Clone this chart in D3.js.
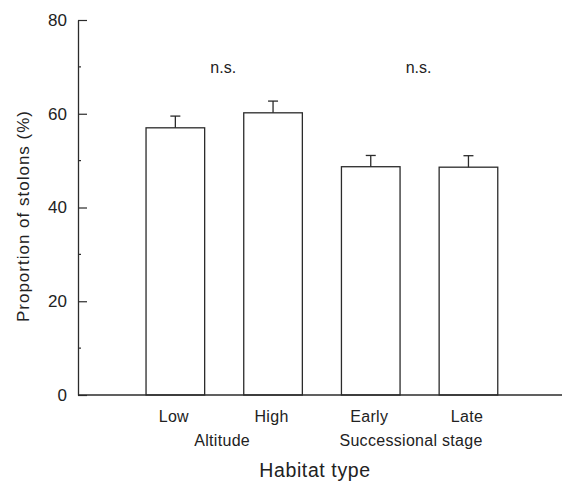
<!DOCTYPE html>
<html><head><meta charset="utf-8">
<script src="https://cdn.jsdelivr.net/npm/d3@7"></script>
<style>
html,body{margin:0;padding:0;background:#fff;}
svg{display:block;font-family:"Liberation Sans",Arial,Helvetica,sans-serif;}
</style></head>
<body>
<svg id="chart" width="563" height="481"></svg>
<script>
const categories = ["Low", "High", "Early", "Late"];
const values = [57.0, 60.2, 48.7, 48.6];
const errors = [2.5, 2.5, 2.4, 2.45];
const groups = ["Altitude", "Successional stage"];
const groupMembers = [["Low", "High"], ["Early", "Late"]];
const groupNotes = ["n.s.", "n.s."];
const yTicks = [0, 20, 40, 60, 80];
const yMinorTicks = [10, 30, 50, 70];

(function () {
const svg = d3.select("#chart");
const ink = "#2b2b2b";
const mLeft = 78, mRight = 562, mTop = 20, mBottom = 395;
const groupLabelShift = [-2, -8.5];

const y = d3.scaleLinear().domain([0, 80]).range([mBottom, mTop]);
const x = d3.scaleBand().domain(categories).range([126.5, 517.3])
  .paddingInner(0.4).paddingOuter(0.2);

// minor ticks
svg.append("g").selectAll("line").data(yMinorTicks).join("line")
  .attr("x1", mLeft).attr("x2", mLeft + 3)
  .attr("y1", d => y(d)).attr("y2", d => y(d))
  .attr("stroke", ink).attr("stroke-width", 1.2);

// y axis
const yAxis = d3.axisLeft(y).tickValues(yTicks).tickFormat(d3.format("d"))
  .tickSizeInner(-9).tickSizeOuter(0).tickPadding(11);
const gy = svg.append("g").attr("transform", `translate(${mLeft},0)`).call(yAxis);
gy.select(".domain").attr("stroke", ink).attr("stroke-width", 1.3);
gy.selectAll(".tick line").attr("stroke", ink).attr("stroke-width", 1.2);
gy.selectAll(".tick text").attr("font-size", 17).attr("fill", "#222")
  .attr("font-family", "Liberation Sans, Arial, sans-serif");

// bars
svg.append("g").selectAll("rect").data(categories).join("rect")
  .attr("x", d => x(d)).attr("width", x.bandwidth())
  .attr("y", (d, i) => y(values[i])).attr("height", (d, i) => y(0) - y(values[i]))
  .attr("fill", "#fff").attr("stroke", ink).attr("stroke-width", 1.3);

// error bars
const eg = svg.append("g").attr("stroke", ink).attr("stroke-width", 1.3);
categories.forEach((c, i) => {
  const cx = x(c) + x.bandwidth() / 2;
  eg.append("line").attr("x1", cx).attr("x2", cx)
    .attr("y1", y(values[i])).attr("y2", y(values[i] + errors[i]));
  eg.append("line").attr("x1", cx - 5).attr("x2", cx + 5)
    .attr("y1", y(values[i] + errors[i])).attr("y2", y(values[i] + errors[i]));
});

// x axis line
svg.append("line").attr("x1", mLeft).attr("x2", mRight)
  .attr("y1", mBottom).attr("y2", mBottom)
  .attr("stroke", ink).attr("stroke-width", 1.3);

// category labels
svg.append("g").selectAll("text").data(categories).join("text")
  .attr("x", d => x(d) + x.bandwidth() / 2 - 1.5).attr("y", 422)
  .attr("text-anchor", "middle").attr("font-size", 16).attr("fill", "#222")
  .attr("letter-spacing", 0.3)
  .text(d => d);

// group labels and notes
groups.forEach((g, i) => {
  const m = groupMembers[i];
  const cx = (x(m[0]) + x(m[1]) + x.bandwidth()) / 2;
  svg.append("text").attr("x", cx + groupLabelShift[i]).attr("y", 446)
    .attr("text-anchor", "middle").attr("font-size", 16).attr("fill", "#222")
    .attr("letter-spacing", 0.3).text(g);
  svg.append("text").attr("x", cx - 1).attr("y", 73)
    .attr("text-anchor", "middle").attr("font-size", 16).attr("fill", "#222").text(groupNotes[i]);
});

// axis titles
svg.append("text").attr("x", 315).attr("y", 477)
  .attr("text-anchor", "middle").attr("font-size", 19.5).attr("fill", "#222")
  .attr("letter-spacing", 0.6)
  .text("Habitat type");
svg.append("text")
  .attr("transform", `translate(28.5,216) rotate(-90)`)
  .attr("text-anchor", "middle").attr("font-size", 17).attr("fill", "#222")
  .attr("letter-spacing", 1.0)
  .text("Proportion of stolons (%)");
})();
</script>
</body></html>
